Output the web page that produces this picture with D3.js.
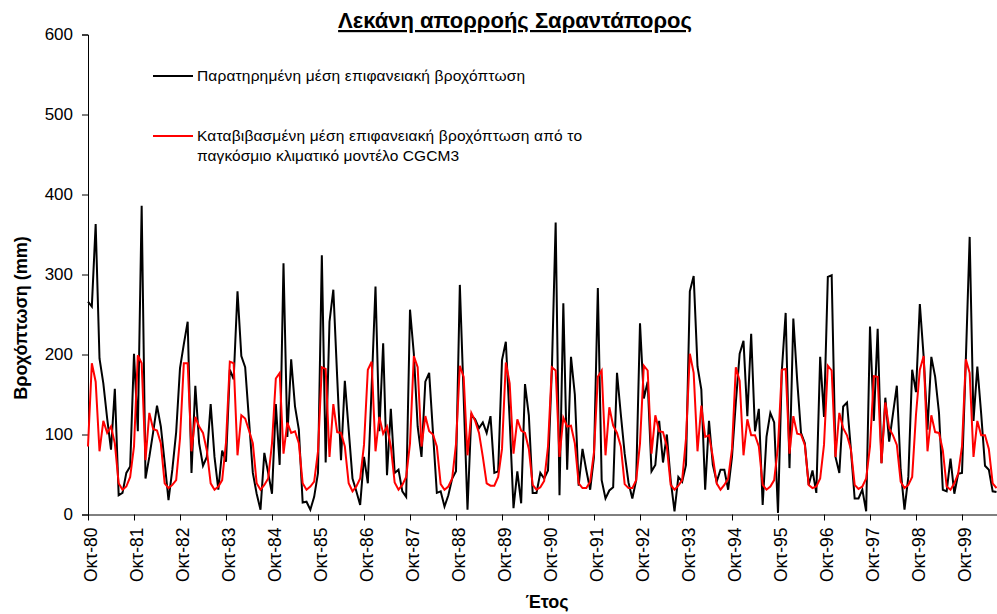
<!DOCTYPE html>
<html>
<head>
<meta charset="utf-8">
<script src="https://cdn.jsdelivr.net/npm/d3@7/dist/d3.min.js"></script>
<style>
  html, body { margin: 0; padding: 0; background: #fff; }
  svg { display: block; font-family: "Liberation Sans", Arial, sans-serif; }
</style>
</head>
<body>
<svg id="chart" width="997" height="614"></svg>
<script>
// Monthly areal precipitation (mm), hydrological years starting October 1980
const observed = [
  266, 260, 363, 195, 164, 120, 81, 157, 24, 27, 52, 60,
  201, 104, 386, 45, 72, 103, 136, 110, 65, 18, 56, 103,
  183, 213, 241, 52, 161, 89, 61, 72, 138, 72, 31, 80,
  66, 181, 169, 279, 198, 184, 118, 52, 26, 6, 77, 52,
  26, 138, 62, 314, 97, 194, 135, 106, 15, 16, 6, 22,
  52, 324, 65, 241, 281, 172, 68, 167, 106, 45, 29, 12,
  72, 39, 160, 285, 104, 214, 49, 132, 52, 56, 29, 22,
  256, 201, 110, 72, 166, 177, 102, 27, 29, 10, 24, 45,
  54, 287, 147, 6, 124, 119, 108, 115, 102, 123, 52, 54,
  193, 216, 118, 8, 54, 14, 163, 124, 27, 27, 52, 45,
  55, 180, 365, 24, 264, 56, 197, 150, 36, 82, 55, 31,
  72, 283, 43, 20, 30, 34, 177, 125, 76, 40, 20, 43,
  239, 145, 166, 54, 62, 117, 65, 100, 43, 4, 47, 41,
  62, 279, 298, 185, 156, 31, 117, 62, 41, 56, 56, 31,
  72, 140, 201, 217, 123, 226, 104, 132, 12, 97, 127, 115,
  2, 180, 252, 58, 245, 168, 102, 89, 37, 55, 27, 197,
  122, 297, 299, 72, 52, 135, 140, 82, 20, 20, 31, 4,
  235, 117, 232, 64, 146, 91, 126, 161, 56, 6, 47, 181,
  153, 263, 197, 106, 197, 172, 127, 31, 29, 70, 26, 51,
  52, 193, 347, 117, 185, 126, 61, 56, 29, 28
];

// Downscaled CGCM3 output for the same months
const downscaled = [
  85, 189, 166, 79, 117, 102, 110, 89, 39, 31, 35, 47,
  85, 199, 189, 68, 127, 107, 105, 89, 39, 33, 37, 43,
  95, 189, 189, 79, 122, 110, 102, 80, 39, 31, 35, 43,
  90, 191, 189, 74, 124, 120, 105, 89, 39, 31, 37, 45,
  89, 170, 177, 76, 115, 102, 104, 89, 39, 31, 35, 41,
  79, 184, 182, 72, 138, 103, 102, 85, 39, 29, 35, 45,
  87, 181, 191, 79, 122, 101, 110, 85, 40, 31, 37, 47,
  89, 198, 184, 85, 123, 104, 100, 85, 38, 31, 35, 45,
  88, 186, 172, 74, 127, 117, 102, 72, 39, 36, 36, 47,
  82, 190, 164, 76, 119, 105, 102, 82, 37, 31, 34, 42,
  85, 184, 180, 72, 121, 110, 111, 89, 39, 33, 33, 41,
  78, 172, 180, 74, 134, 111, 102, 85, 38, 33, 33, 43,
  89, 186, 180, 76, 124, 104, 103, 85, 37, 31, 36, 43,
  95, 201, 177, 79, 136, 97, 99, 72, 39, 31, 37, 45,
  82, 184, 167, 74, 119, 99, 99, 85, 37, 31, 35, 43,
  85, 181, 182, 76, 123, 101, 100, 87, 37, 33, 35, 45,
  87, 186, 180, 72, 127, 108, 99, 82, 37, 32, 35, 45,
  85, 173, 172, 64, 140, 108, 99, 87, 41, 33, 37, 47,
  125, 181, 198, 79, 124, 103, 102, 80, 35, 31, 39, 51,
  85, 194, 177, 72, 117, 99, 99, 82, 39, 33
];

const xTickLabels = [
  "Οκτ-80", "Οκτ-81", "Οκτ-82", "Οκτ-83", "Οκτ-84", "Οκτ-85", "Οκτ-86",
  "Οκτ-87", "Οκτ-88", "Οκτ-89", "Οκτ-90", "Οκτ-91", "Οκτ-92", "Οκτ-93",
  "Οκτ-94", "Οκτ-95", "Οκτ-96", "Οκτ-97", "Οκτ-98", "Οκτ-99"
];
const yTicks = [0, 100, 200, 300, 400, 500, 600];

const seriesNames = [
  ["Παρατηρημένη μέση επιφανειακή βροχόπτωση"],
  ["Καταβιβασμένη μέση επιφανειακή βροχόπτωση από το",
   "παγκόσμιο κλιματικό μοντέλο CGCM3"]
];
const seriesColors = ["#000000", "#ff0000"];

const W = 997, H = 614;
const plotLeft = 88, plotTop = 34.5, plotBottom = 514.5;

const svg = d3.select("#chart");

// October of the first and last labelled years pin the month scale
const x = d3.scaleLinear()
  .domain([0, 12 * (xTickLabels.length - 1)])
  .range([plotLeft, 962]);
const xAxisScale = d3.scaleLinear()
  .domain([0, x.invert(W)])
  .range([plotLeft, W]);
const y = d3.scaleLinear().domain([0, 600]).range([plotBottom, plotTop]);

// Y axis
const yAxis = d3.axisLeft(y)
  .tickValues(yTicks)
  .tickSize(6)
  .tickPadding(9)
  .tickFormat(d3.format("d"));
const gy = svg.append("g")
  .attr("transform", `translate(${plotLeft},0)`)
  .call(yAxis);
gy.selectAll("text")
  .attr("font-size", 17)
  .attr("font-family", "Liberation Sans, Arial, sans-serif")
  .attr("fill", "#000");
gy.selectAll("line, path").attr("stroke", "#000");

// X axis with rotated month labels
const xTickValues = xTickLabels.map((_, i) => i * 12);
const xAxis = d3.axisBottom(xAxisScale)
  .tickValues(xTickValues)
  .tickSize(6)
  .tickSizeOuter(0)
  .tickFormat("");
const gx = svg.append("g")
  .attr("transform", `translate(0,${plotBottom})`)
  .call(xAxis);
gx.selectAll("line, path").attr("stroke", "#000");

svg.append("g")
  .selectAll("text")
  .data(xTickValues)
  .join("text")
  .attr("transform", d => `translate(${x(d) + 8.5},${plotBottom + 13}) rotate(-90)`)
  .attr("text-anchor", "end")
  .attr("font-size", 17.5)
  .attr("fill", "#000")
  .text((d, i) => xTickLabels[i]);

// Series lines
const line = d3.line()
  .x((d, i) => x(i))
  .y(d => y(d));

[observed, downscaled].forEach((values, k) => {
  svg.append("path")
    .datum(values)
    .attr("fill", "none")
    .attr("stroke", seriesColors[k])
    .attr("stroke-width", 2)
    .attr("stroke-linejoin", "miter")
    .attr("d", line);
});

// Title
svg.append("text")
  .attr("x", 515)
  .attr("y", 28)
  .attr("text-anchor", "middle")
  .attr("font-size", 22)
  .attr("font-weight", "bold")
  .attr("text-decoration", "underline")
  .attr("fill", "#000")
  .text("Λεκάνη απορροής Σαραντάπορος");

// Axis titles
svg.append("text")
  .attr("x", 547)
  .attr("y", 608)
  .attr("text-anchor", "middle")
  .attr("font-size", 18)
  .attr("font-weight", "bold")
  .attr("fill", "#000")
  .text("Έτος");

svg.append("text")
  .attr("transform", "translate(27,318) rotate(-90)")
  .attr("text-anchor", "middle")
  .attr("font-size", 18)
  .attr("font-weight", "bold")
  .attr("fill", "#000")
  .text("Βροχόπτωση (mm)");

// Legend
const legendRows = [76, 136];
const legendWidths = [[328], [385, 262]];
const legend = svg.append("g");
seriesNames.forEach((lines, k) => {
  const ly = legendRows[k];
  legend.append("line")
    .attr("x1", 153).attr("x2", 193)
    .attr("y1", ly).attr("y2", ly)
    .attr("stroke", seriesColors[k])
    .attr("stroke-width", 2);
  lines.forEach((t, j) => {
    legend.append("text")
      .attr("x", 197)
      .attr("y", ly + 5 + j * 20)
      .attr("font-size", 15.5)
      .attr("textLength", legendWidths[k][j])
      .attr("lengthAdjust", "spacing")
      .attr("fill", "#000")
      .text(t);
  });
});
</script>
</body>
</html>
